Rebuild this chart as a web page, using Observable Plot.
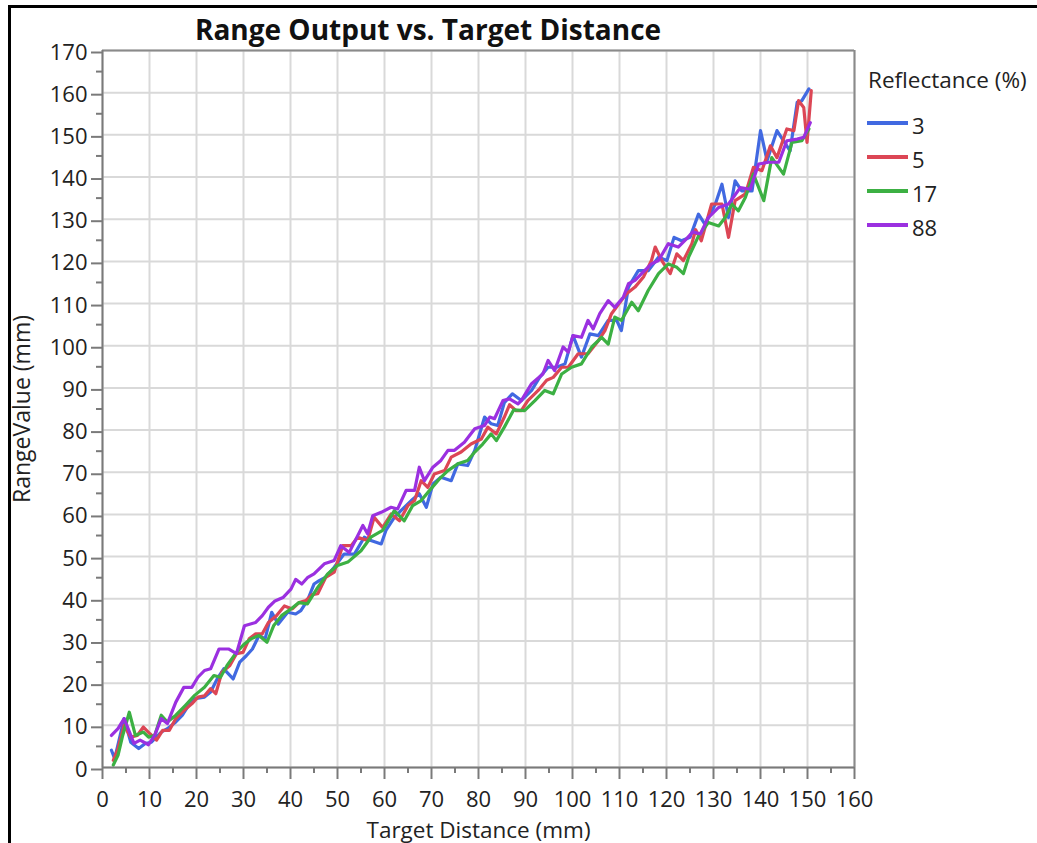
<!DOCTYPE html>
<html>
<head>
<meta charset="utf-8">
<script src="https://cdn.jsdelivr.net/npm/d3@7"></script>
<script src="https://cdn.jsdelivr.net/npm/@observablehq/plot@0.6"></script>
<style>
  html, body { margin: 0; padding: 0; background: #fff; }
  body { width: 1037px; height: 843px; position: relative; overflow: hidden; font-family: "Open Sans", "Noto Sans", sans-serif; }
  #frame { position: absolute; left: 8px; top: 5px; right: -10px; bottom: -10px; border-left: 3px solid #000; border-top: 3px solid #000; }
  #chart { position: absolute; left: 0; top: 0; }
  #title { position: absolute; left: 0; width: 856px; top: 15px; text-align: center; font-weight: bold; font-size: 28px; line-height: 28px; color: #111; }
  #legend { position: absolute; left: 0; top: 0; }
  .lg-title { position: absolute; left: 868px; top: 69px; font-size: 22.5px; line-height: 22px; color: #222; white-space: nowrap; }
  .lg-sw { position: absolute; left: 867px; width: 41px; height: 4px; }
  .lg-lab { position: absolute; left: 912px; font-size: 22px; line-height: 22px; color: #222; }
</style>
</head>
<body>
<div id="frame"></div>
<div id="chart"></div>
<div id="title"></div>
<div id="legend"></div>
<script>
const chartTitle = "Range Output vs. Target Distance";
const xTitle = "Target Distance (mm)";
const yTitle = "RangeValue (mm)";
const legendTitle = "Reflectance (%)";
const seriesNames = ["3", "5", "17", "88"];
const seriesColors = ["#4169e1", "#dc4655", "#3cb043", "#9b30e0"];
const xTicks = [0,10,20,30,40,50,60,70,80,90,100,110,120,130,140,150,160];
const xMinorTicks = [5,15,25,35,45,55,65,75,85,95,105,115,125,135,145,155];
const yTicks = [0,10,20,30,40,50,60,70,80,90,100,110,120,130,140,150,160,170];
const yMinorTicks = [5,15,25,35,45,55,65,75,85,95,105,115,125,135,145,155,165];

const dist3 = [1.9,2.6,4.6,6,7.7,9.1,10.4,12.5,13.8,15.6,17,18.3,19.6,21.7,23,24.4,25.8,27.8,29.2,30.6,31.9,33.3,34.6,36,37.4,39.4,41.1,42.2,43.6,45,46.1,47.5,49.3,51.4,53.6,55.7,57.1,59.3,60.3,62.1,63.5,65.7,67.4,68.9,70.3,72,74.2,75.6,77.7,79.2,81.3,82.7,84.1,85.5,87.2,89.1,91.3,93,94.8,96.6,98.4,100.1,101.9,103.7,105.5,107.6,109.4,110.4,111.9,114,116.1,118.3,120.1,121.6,123.2,125,126.8,128.2,130.4,131.8,133.2,134.6,136,138.2,140,141.4,143.5,144.9,146.3,147.8,148.8,150.3];
const range3 = [4.1,2.1,11.6,6,4.5,5.7,6,8.4,9.2,10.8,12.4,14.7,16.3,16.7,17.9,21,23.4,21,25,26.5,28.1,31.3,30.5,36.8,34,36.8,36.4,37.2,39.6,43.5,44.3,45.1,47.5,50.6,50.6,54.6,53.8,53,56.2,59.3,60.9,63.3,64.9,61.7,67.2,68.8,68,72,71.6,75.2,83.1,81.5,81.1,86.5,88.6,87,89.4,92.5,94.9,94.9,95.7,102.4,97.3,102.8,102.4,106,106,103.6,113.9,117.8,117.8,121,120.2,125.7,124.9,125.7,131.2,128.8,133.6,138.3,130.4,139.1,136.7,136.7,151,143.9,151,148.6,146.2,157.7,158.1,160.9];

const dist5 = [2.3,3.3,4.6,6,7.4,8.7,10.1,11.5,12.8,14.2,15.6,17.3,19,20.3,21.7,23,24.1,25.4,27.1,28.5,29.9,31.2,32.6,34,35.3,37,38.7,40.4,41.8,43.3,44.6,45.8,47.5,49.3,51.1,52.9,54.3,56.4,57.8,59.6,61.4,63.2,65,66.4,67.8,69.2,70.6,72.8,74.2,76.3,78.4,80.6,82,83.8,85.5,86.6,88,89.1,90.5,92.7,94.5,95.9,97.7,99.1,101.2,103.3,105.5,106.9,108.3,110.1,111.5,113.3,115.1,116.8,117.6,119,120.8,122.2,123.6,125.4,126.2,127.4,129.6,131.8,133.2,134.6,136.8,138.5,140.3,142.1,143.5,145.6,147.1,148.1,149.2,149.9,150.8];
const range5 = [1.7,4.5,10,7.2,7.6,9.6,8,6.5,8.8,8.8,11.6,13.5,15.1,16.7,17,18.7,17.5,22.6,24.2,27,27.3,30.5,31.7,31.7,34.4,36,38.3,37.6,39.1,39.6,41,41.2,45.1,46.3,52.6,52.6,54.6,53.8,59.3,56.9,60.1,58.5,62.1,63.3,68,66.4,69.6,70.4,73.6,74.8,76.7,77.9,80.7,79.1,83.1,86,84.6,84.6,87,89.4,91.8,92.5,94.9,94.9,98.1,98.1,101.2,103.6,107.6,110.3,112.3,113.9,116.3,120.2,123.4,120.2,117.1,121.8,120.2,124.2,127.5,124.9,133.6,133.6,125.7,134.4,136,142.3,141.5,147.4,144.6,151.4,151,158.1,156.5,148.2,160.5];

const dist17 = [2.3,3.3,4.3,5.7,7,8.7,9.8,11.1,12.5,13.8,15.6,17.6,19.6,21.7,23.7,25.1,26.5,28.5,30.2,31.6,33.3,35,36.4,38.1,40.1,41.8,43.6,45.8,47.9,50,52.2,55,57.1,59.6,62.1,64.2,66,67.8,69.6,72,73.5,75.6,77.7,79.2,80.9,82.7,83.8,85.5,87.5,89.8,92,94.1,95.9,97.7,99.8,101.9,104.1,106.2,107.6,109,110.4,112.6,114,116.1,118.3,120.4,122.2,123.6,124.7,126.8,128.9,131.1,132.5,133.9,135.3,136.8,138.5,140.7,142.4,144.9,146.7,148.8,150.3];
const range17 = [0.6,2.9,7.6,13.1,7.6,8.4,7.2,7.6,12.4,10.8,12.4,14.7,17.1,19,21.8,21.4,24.2,27.3,29.3,30.5,31.3,29.7,33.6,36,37.6,39.1,38.8,42.7,45.9,47.9,48.7,51.4,54.6,56.2,60.9,58.5,62.1,63.3,65.7,68.8,70.4,72,72.8,74.8,76.7,79.1,77.5,80.7,84.8,84.6,87,89.4,88.6,93.3,94.9,95.7,99.7,102,100.4,106.8,106,110.3,108.3,113.1,117.1,119.4,118.6,117.1,121,126,129.2,128.4,130.4,133.6,132,135.2,140.7,134.4,144.6,140.7,148.2,148.6,151.4];

const dist88 = [1.9,3.3,4.6,6.7,8,9.8,11.1,12.5,13.8,15.6,17.3,19,20.3,21.7,23,24.8,26.8,28.5,30.2,32.6,34,35.3,36.7,38.4,40.1,41.1,42.4,43.6,45,47.2,49.3,50.7,52.5,55.4,56.4,57.5,59.3,61.4,62.8,64.6,66.4,67.4,68.5,70.3,72,73.5,74.9,77,79.2,81.3,82.4,83.4,85.2,86.6,88.4,89.1,91.3,93.7,94.8,96.2,98,99.1,100.1,101.9,103.3,104.4,105.8,107.6,109,110.8,111.9,113.3,114.7,116.8,118.3,120.4,122.5,124.3,125.6,127.2,128.9,131.1,133.2,135.7,137.8,139.6,141.7,143.9,145.6,147.8,149.2,150.6];
const range88 = [7.6,9.2,11.6,5.7,6.5,5.4,7.6,11.6,10.4,15.5,19,19,21.4,23,23.4,28.1,28.1,27,33.6,34.4,36,38,39.5,40.3,42.3,44.6,43.5,45,45.9,48.3,49.1,52.6,51,57.4,55.4,59.7,60.5,61.7,61.3,65.7,65.7,71.2,68,71.2,72.8,75.2,75.2,77.1,80.3,81.1,83.1,82.7,87,87.4,86.2,87,91,93.3,96.5,94.1,99.7,98.5,102.4,102,106,104,107.6,110.7,109.1,111.5,114.7,115.5,117.1,119.4,120.2,124.2,123.4,125.4,127,126.5,130.4,132.8,133.6,137.5,137.1,143.1,143.5,143.5,148.6,149,149.4,152.9];

const seriesDist = [dist3, dist5, dist17, dist88];
const seriesRange = [range3, range5, range17, range88];

const rows = [];
seriesNames.forEach((name, i) => {
  seriesDist[i].forEach((d, j) => rows.push({series: name, dist: d, range: seriesRange[i][j]}));
});

const FONT = "'Open Sans', 'Noto Sans', sans-serif";
const gridColor = "#d9d9d9";
const axisColor = "#7a7a7a";
const textColor = "#222";

const chart = Plot.plot({
  width: 870,
  height: 843,
  marginLeft: 102,
  marginRight: 16,
  marginTop: 50,
  marginBottom: 76,
  style: {fontFamily: FONT, fontSize: "22px", background: "transparent", overflow: "visible", color: textColor},
  x: {domain: [0, 160]},
  y: {domain: [0, 170]},
  color: {domain: seriesNames, range: seriesColors},
  marks: [
    Plot.gridX(xTicks, {stroke: gridColor, strokeOpacity: 1, strokeWidth: 2}),
    Plot.gridY(yTicks, {stroke: gridColor, strokeOpacity: 1, strokeWidth: 2}),
    Plot.line(rows, {x: "dist", y: "range", z: "series", stroke: "series", strokeWidth: 3.2, strokeLinejoin: "round", strokeLinecap: "round"}),
    Plot.ruleY([170], {stroke: "#8a8a8a", strokeWidth: 2}),
    Plot.ruleX([160], {stroke: "#8a8a8a", strokeWidth: 2}),
    Plot.ruleY([0], {stroke: axisColor, strokeWidth: 2}),
    Plot.ruleX([0], {stroke: axisColor, strokeWidth: 2}),
    Plot.axisX(xTicks, {tickSize: 12, tickPadding: 12, stroke: axisColor, strokeWidth: 2, fill: textColor, fontSize: 22, label: null}),
    Plot.axisX(xMinorTicks, {tickSize: 6, stroke: axisColor, strokeWidth: 2, tickFormat: () => "", label: null}),
    Plot.axisY(yTicks, {tickSize: 11, tickPadding: 4, dy: 2, stroke: axisColor, strokeWidth: 2, fill: textColor, fontSize: 22, label: null}),
    Plot.axisY(yMinorTicks, {tickSize: 6, stroke: axisColor, strokeWidth: 2, tickFormat: () => "", label: null}),
    Plot.text([yTitle], {frameAnchor: "left", rotate: -90, dx: -80, textAnchor: "middle", lineAnchor: "middle", fill: textColor, fontSize: 23}),
    Plot.text([xTitle], {frameAnchor: "bottom", dy: 63, textAnchor: "middle", lineAnchor: "middle", fill: textColor, fontSize: 22.5})
  ]
});
document.getElementById("chart").appendChild(chart);

document.getElementById("title").textContent = chartTitle;

const legend = document.getElementById("legend");
const lt = document.createElement("div");
lt.className = "lg-title";
lt.textContent = legendTitle;
legend.appendChild(lt);
const legendY = [122.5, 156.5, 190.5, 224.5];
seriesNames.forEach((name, i) => {
  const sw = document.createElement("div");
  sw.className = "lg-sw";
  sw.style.top = (legendY[i] - 2) + "px";
  sw.style.background = seriesColors[i];
  legend.appendChild(sw);
  const lab = document.createElement("div");
  lab.className = "lg-lab";
  lab.style.top = (legendY[i] - 9) + "px";
  lab.textContent = name;
  legend.appendChild(lab);
});
</script>
</body>
</html>
